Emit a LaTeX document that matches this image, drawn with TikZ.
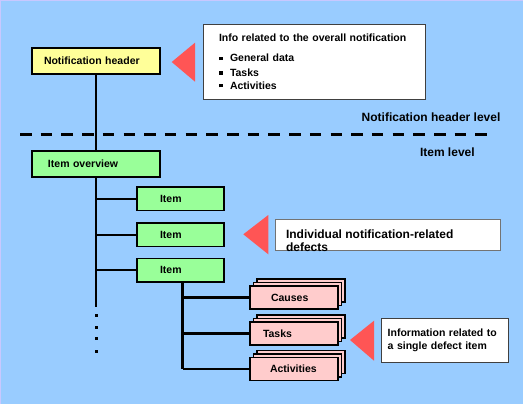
\documentclass[tikz,border=0pt]{standalone}
\usepackage{fontspec}
\setmainfont{Liberation Sans}
\usetikzlibrary{shadows,calc}
\definecolor{bgblue}{HTML}{99CCFF}
\definecolor{hdryellow}{HTML}{FFFF99}
\definecolor{itemgreen}{HTML}{99FF99}
\definecolor{subpink}{HTML}{FFCCCC}
\definecolor{pointred}{HTML}{FF5555}
\definecolor{edgelav}{HTML}{C8C8FF}
\begin{document}
\begin{tikzpicture}[x=1pt,y=-1pt,
  every node/.style={font=\bfseries\fontsize{10.5}{12.6}\selectfont, inner sep=0pt, outer sep=0pt},
  bigtext/.style={font=\bfseries\fontsize{12}{13.4}\selectfont},
  levelbox/.style={draw=black, line width=1.8pt, anchor=north west, align=left},
  hdrbox/.style={levelbox, fill=hdryellow},
  itembox/.style={levelbox, fill=itemgreen},
  subbox/.style={levelbox, line width=1.6pt, fill=subpink,
    double copy shadow={shadow xshift=3.6pt, shadow yshift=3.6pt}},
  notebox/.style={draw=black!75, line width=0.9pt, fill=white, anchor=north west, align=left},
  conn/.style={line width=2.8pt, black},
  hconn/.style={line width=2.4pt, black},
  pointer/.style={fill=pointred},
  levelline/.style={line width=3pt, dash pattern=on 11.5pt off 9.2pt}]
\useasboundingbox (0,0) rectangle (523,404);
\fill[bgblue] (0,0) rectangle (523,404);
\draw[edgelav, line width=1pt] (0.5,404) -- (0.5,0.5) -- (523,0.5);

% level separator
\draw[levelline] (20,135) -- (488,135);
\node[bigtext, anchor=west] (lvlhdr) at (361.7,117.7) {Notification header level};
\node[bigtext, anchor=west] (lvlitem) at (420,152.3) {Item level};

% boxes
\node[hdrbox, minimum width=128pt, minimum height=26pt, text width=104pt, inner xsep=12pt] (hdr) at (32,48) {Notification header};
\node[itembox, minimum width=128pt, minimum height=26pt, text width=96pt, inner xsep=16pt] (ov) at (32,151) {Item overview};
\node[itembox, minimum width=87pt, minimum height=23.5pt, text width=41pt, inner xsep=23pt] (it1) at (137,187) {Item};
\node[itembox, minimum width=87pt, minimum height=23.5pt, text width=41pt, inner xsep=23pt] (it2) at (137,223) {Item};
\node[itembox, minimum width=87pt, minimum height=23.5pt, text width=41pt, inner xsep=23pt] (it3) at (137,258.5) {Item};
\node[subbox, minimum width=88pt, minimum height=23pt, text width=46pt, inner xsep=21pt] (causes) at (250,286) {Causes};
\node[subbox, minimum width=88pt, minimum height=23pt, text width=62pt, inner xsep=13pt] (tasks) at (250,322) {Tasks};
\node[subbox, minimum width=88pt, minimum height=23pt, text width=48pt, inner xsep=20pt] (acts) at (250,357.5) {Activities};

% connectors
\coordinate (mainend) at (96,306.7);
\draw[conn] (hdr.south) -- (ov.north);
\draw[conn] (ov.south) -- (ov.south |- mainend);
\draw[hconn] (it1.west) -- (it1.west -| ov.south);
\draw[hconn] (it2.west) -- (it2.west -| ov.south);
\draw[hconn] (it3.west) -- (it3.west -| ov.south);
\foreach \yy in {315,327.2,338.8,351} {\fill (94.6,\yy-1.5) rectangle ++(3,3);}
\coordinate (sub) at ([xshift=2.2pt]it3.south);
\draw[conn] (sub) -- (sub |- acts.west);
\draw[hconn] (causes.west) -- (causes.west -| sub);
\draw[hconn] (tasks.west) -- (tasks.west -| sub);
\draw[hconn] (acts.west) -- (acts.west -| sub);

% notes
\node[notebox, minimum width=222.4pt, minimum height=75pt, text width=191pt, inner xsep=15.7pt] (note1) at (203.3,24.3)
  {\fontsize{10.5}{14.7}\selectfont Info related to the overall notification\\[5.3pt]
   \raisebox{1.8pt}{\rule{3.5pt}{3.5pt}}\hspace{7.5pt}General data\\
   \raisebox{1.8pt}{\rule{3.5pt}{3.5pt}}\hspace{7.5pt}Tasks\\
   \raisebox{1.8pt}{\rule{3.5pt}{3.5pt}}\hspace{7.5pt}Activities};
\fill[pointer] (195,42.7) -- (171.7,62) -- (195,81.7) -- cycle;

\node[notebox, draw=black!55, minimum width=225.7pt, minimum height=31.7pt] (note2) at (275,219) {};
\node[bigtext, anchor=north west, align=left] (note2txt) at ($(note2.north west)+(11,10.6)$)
  {Individual notification-related\\defects};
\fill[pointer] (268.3,215) -- (243.3,234.3) -- (268.3,254.3) -- cycle;

\node[notebox, minimum width=126.6pt, minimum height=44pt, text width=114.6pt, inner xsep=6pt] (note3) at (381.7,318.3)
  {\fontsize{10.5}{12.4}\selectfont Information related to\\a single defect item};
\fill[pointer] (374,320.7) -- (350,340) -- (374,360.7) -- cycle;
\end{tikzpicture}
\end{document}
